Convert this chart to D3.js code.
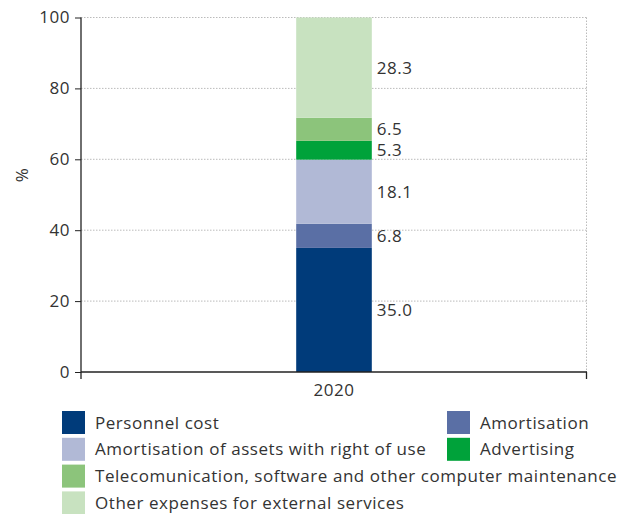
<!DOCTYPE html>
<html><head><meta charset="utf-8">
<script src="https://cdn.jsdelivr.net/npm/d3@7"></script>
<style>body{margin:0;background:#fff;} text{font-family:"Open Sans",sans-serif;letter-spacing:0.55px;}</style>
</head><body><svg id="c" width="627" height="514"></svg>
<script>
const categories = ["2020"];
const seriesNames = ["Personnel cost","Amortisation","Amortisation of assets with right of use","Advertising","Telecomunication, software and other computer maintenance","Other expenses for external services"];
const seriesValues = [35.0, 6.8, 18.1, 5.3, 6.5, 28.3];
const seriesColors = ["#003b7a","#5a6fa5","#b1b9d6","#00a23a","#8cc47b","#c8e2c0"];
const yTicks = [0,20,40,60,80,100];
const legendOrder = [[0,1],[2,3],[4],[5]];

const FS = 17, FF = "'Open Sans',sans-serif", TC = "#333";
const svg = d3.select("#c");
const x0 = 81, x1 = 587, yTop = 17.5, yBot = 372;
const y = d3.scaleLinear().domain([0,100]).range([yBot,yTop]);
const x = d3.scaleBand().domain(categories).range([x0,x1]).paddingInner(0.74).paddingOuter(0.74);

// grid
const g = svg.append("g");
g.selectAll("line.grid").data(yTicks.filter(d=>d>0)).join("line")
 .attr("x1",x0).attr("x2",x1).attr("y1",d=>y(d)).attr("y2",d=>y(d))
 .attr("stroke","#bbb").attr("stroke-dasharray","1.5,1.5");
g.append("line").attr("x1",x1-0.5).attr("x2",x1-0.5).attr("y1",y(100)).attr("y2",yBot)
 .attr("stroke","#bbb").attr("stroke-dasharray","1.5,1.5");

// stacked
let cum = 0;
const stacks = seriesValues.map((v,i)=>{const s={i,v,y0:cum,y1:cum+v};cum+=v;return s;});
const bx = x(categories[0]), bw = x.bandwidth();
svg.selectAll("rect.seg").data(stacks).join("rect")
 .attr("x",bx).attr("width",bw).attr("y",d=>y(d.y1)).attr("height",d=>y(d.y0)-y(d.y1))
 .attr("fill",d=>seriesColors[d.i]);
svg.selectAll("text.lab").data(stacks).join("text")
 .attr("x",bx+bw+5).attr("y",d=>y((d.y0+d.y1)/2)).attr("dy","0.35em")
 .attr("font-size",FS).attr("fill",TC).text(d=>d.v.toFixed(1));

// axes
const ya = d3.axisLeft(y).tickValues(yTicks).tickSize(6).tickPadding(5);
const yg = svg.append("g").attr("transform",`translate(${x0},0)`).call(ya);
yg.select(".domain").attr("d",`M0,${yTop}V${yBot}`).attr("stroke","#222").attr("stroke-width",1.3);
yg.selectAll(".tick line").attr("stroke","#222");
yg.selectAll(".tick text").attr("font-size",FS).attr("fill",TC).attr("font-family",FF);

const xa = d3.axisBottom(x).tickSize(0).tickPadding(12);
const xg = svg.append("g").attr("transform",`translate(0,${yBot})`).call(xa);
xg.select(".domain").attr("d",`M${x0},0H${x1}`).attr("stroke","#222").attr("stroke-width",1.3);
xg.selectAll(".tick text").attr("font-size",FS).attr("fill",TC).attr("font-family",FF);
[x0,x1-0.5].forEach(px=>xg.append("line").attr("x1",px).attr("x2",px).attr("y1",0).attr("y2",7).attr("stroke","#222").attr("stroke-width",1.3));

svg.append("text").attr("transform","translate(28,175) rotate(-90)").attr("text-anchor","middle")
 .attr("font-size",FS).attr("fill",TC).text("%");

// legend
const colX = [62,447];
legendOrder.forEach((row,r)=>{
  row.forEach((si,c)=>{
    const ly = 411 + r*26.8;
    const lg = svg.append("g").attr("transform",`translate(${colX[c]},${ly})`);
    lg.append("rect").attr("width",23).attr("height",23).attr("fill",seriesColors[si]);
    lg.append("text").attr("x",33).attr("y",11.5).attr("dy","0.36em").attr("font-size",FS).attr("fill",TC).text(seriesNames[si]);
  });
});
</script></body></html>
